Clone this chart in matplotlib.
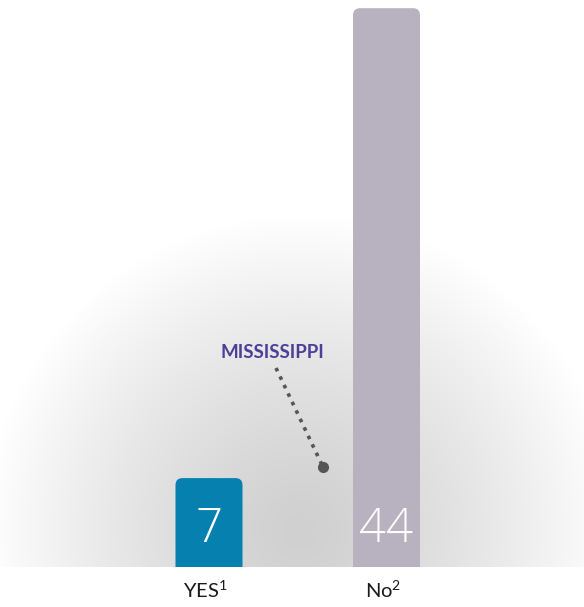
import numpy as np
import matplotlib
matplotlib.use("Agg")
import matplotlib.pyplot as plt
from matplotlib.patches import FancyBboxPatch

plt.rcParams["mathtext.fontset"] = "custom"
plt.rcParams["mathtext.rm"] = "Lato"
plt.rcParams["mathtext.it"] = "Lato"

categories = ["YES", "No"]
superscripts = ["1", "2"]
values = [7, 44]
bar_colors = ["#0580AF", "#B8B2C0"]
annotation_text = "MISSISSIPPI"

W, H = 584, 607
fig = plt.figure(figsize=(W / 100, H / 100), dpi=100)
fig.patch.set_facecolor("white")

# background gradient (pixel coordinates)
bg = fig.add_axes([0, 0, 1, 1])
bg.set_xlim(0, W)
bg.set_ylim(H, 0)
bg.axis("off")
yy, xx = np.mgrid[0:H, 0:W]
cx, cy, R = 300, 530, 315
d = np.sqrt((xx - cx) ** 2 + (yy - cy) ** 2) / R
g = 0.815 + 0.185 * np.clip(d, 0, 1) ** 1.3
g[yy >= 567] = 1.0
img = np.dstack([g, g, g])
bg.imshow(img, extent=[0, W, H, 0], interpolation="bilinear", aspect="auto")

# data axes
base_px = 567
px_per_unit = 12.7
top_units = base_px / px_per_unit
ax = fig.add_axes([0, (H - base_px) / H, 1, base_px / H])
ax.set_facecolor("none")
x0_px, spacing_px = 209, 177.5
ax.set_xlim(-x0_px / spacing_px, (W - x0_px) / spacing_px)
ax.set_ylim(0, top_units)
ax.axis("off")

bar_w = 67 / spacing_px
rad_px = 7
xs = np.arange(len(categories))
for i, (v, c) in enumerate(zip(values, bar_colors)):
    p = FancyBboxPatch((xs[i] - bar_w / 2, -2), bar_w, v + 2,
                       boxstyle=f"round,pad=0,rounding_size={rad_px / spacing_px}",
                       mutation_aspect=spacing_px / px_per_unit,
                       facecolor=c, edgecolor="none", clip_on=True)
    ax.add_patch(p)
    ax.text(xs[i], 2.95, str(v), ha="center", va="center", color="white",
            fontsize=34, family="Open Sans", fontweight="light")
    ax.text(xs[i] - 0.02, -1.85, f"{categories[i]}$^{{{superscripts[i]}}}$", ha="center", va="center",
            color="#1a1a1a", fontsize=14.5, family="Lato", clip_on=False)

# annotation (located relative to data)
ann_xy = ((323 - x0_px) / spacing_px, (base_px - 467) / px_per_unit)
txt_xy = ((272 - x0_px) / spacing_px, (base_px - 352) / px_per_unit)
line_start = ((276 - x0_px) / spacing_px, (base_px - 368) / px_per_unit)
ax.plot([line_start[0], ann_xy[0]], [line_start[1], ann_xy[1]],
        linestyle=(0, (1, 1.6)), color="#555555", linewidth=2.6)
ax.plot([ann_xy[0]], [ann_xy[1]], "o", color="#555555", markersize=7)
ax.text(txt_xy[0], txt_xy[1], annotation_text, ha="center", va="center",
        color="#4B3F98", fontsize=13.5, family="Lato", fontweight="bold")

fig.savefig("out.png", dpi=100, facecolor="white")
